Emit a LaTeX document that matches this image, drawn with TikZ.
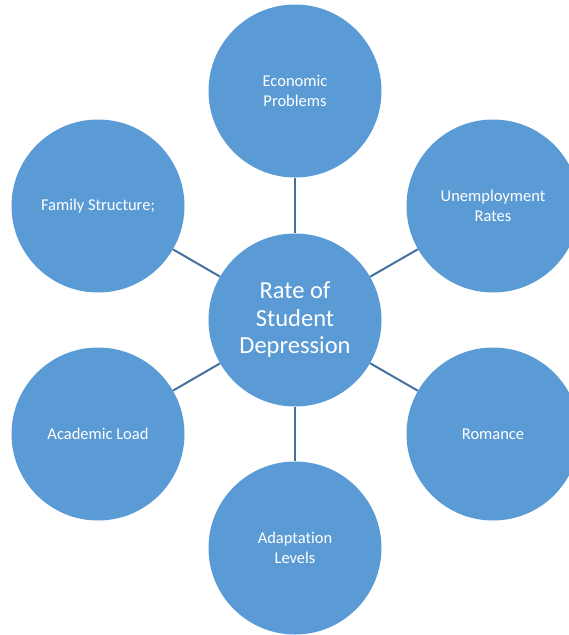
\documentclass[tikz,border=0pt]{standalone}
\usepackage{fontspec}
\setmainfont{Carlito}[Ligatures=NoCommon]
\usepackage{tikz}
\usepackage{xcolor}
\definecolor{bubble}{HTML}{5B9BD5}
\definecolor{spoke}{HTML}{41719C}

\tikzset{
  outer/.style={circle, fill=bubble, minimum size=173pt, inner sep=0pt, text=white, align=center, font=\fontsize{16.5}{19.5}\selectfont},
  hub/.style={circle, fill=bubble, minimum size=173pt, inner sep=0pt, text=white, align=center, font=\fontsize{24.5}{27.5}\selectfont},
  link/.style={draw=spoke, line width=2pt}
}

\begin{document}
\begin{tikzpicture}[x=1pt,y=-1pt]
\useasboundingbox (0,0) rectangle (569,635);
\clip (0,0) rectangle (569,635);

\node[hub] (depr) at (295,320) {Rate of\\Student\\Depression};

\node[outer] (econ) at (295,91) {Economic\\Problems};
\node[outer] (unemp) at (493,206) {Unemployment\\Rates};
\node[outer] (rom) at (493,434) {Romance};
\node[outer] (adapt) at (295,548) {Adaptation\\Levels};
\node[outer] (acad) at (98,434) {Academic Load};
\node[outer] (fam) at (98,206) {Family Structure;};

\draw[link] (depr) -- (econ);
\draw[link] (depr) -- (unemp);
\draw[link] (depr) -- (rom);
\draw[link] (depr) -- (adapt);
\draw[link] (depr) -- (acad);
\draw[link] (depr) -- (fam);

\end{tikzpicture}
\end{document}
